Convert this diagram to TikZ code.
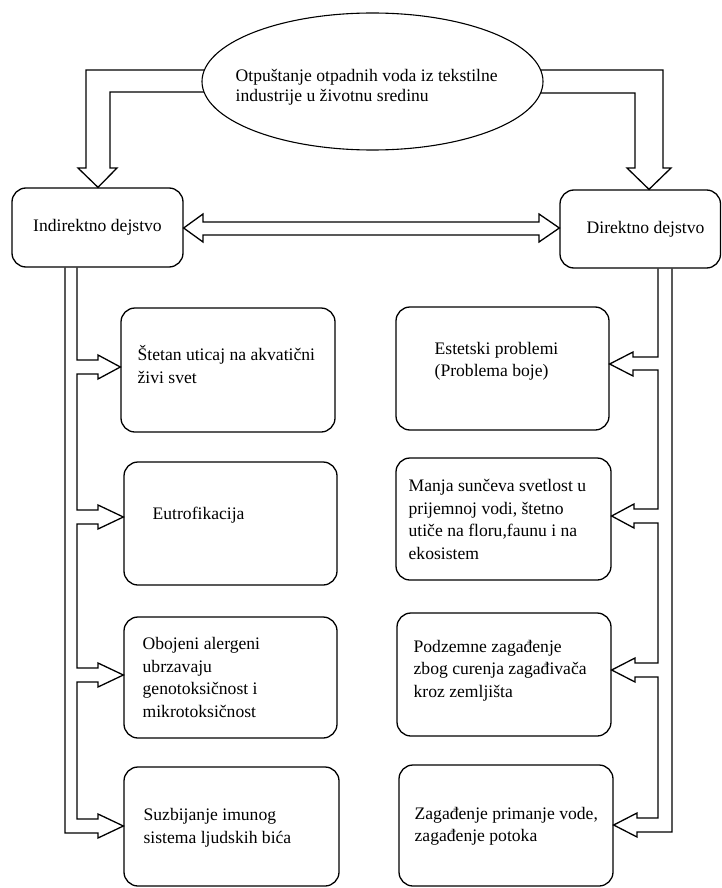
\documentclass[tikz,border=0pt]{standalone}
\usepackage{fontspec}
\IfFontExistsTF{LiberationSerif-Regular.ttf}
  {\setmainfont{LiberationSerif-Regular.ttf}[BoldFont=LiberationSerif-Bold.ttf]}
  {\setmainfont{Liberation Serif}}
\usetikzlibrary{shapes.geometric,backgrounds}
\begin{document}
\begin{tikzpicture}[x=1pt,y=-1pt,
  line width=1.3pt, line join=miter,
  card/.style={draw=black, rounded corners=14pt, inner sep=0pt},
  txt/.style={anchor=west, inner sep=0pt, align=left, font=\fontsize{17.6}{22.5}\selectfont},
  flow/.style={draw=black, line width=1.3pt, line join=miter}]
\useasboundingbox (0,0) rectangle (722,888);

% source ellipse
\node[draw=black, fill=white, ellipse, inner sep=0pt, line width=1.1pt,
      minimum width=341pt, minimum height=137pt] (src) at (372.5,81.5) {};
\node[txt, font=\fontsize{17.6}{19.5}\selectfont] (tsrc) at (235,87.5)
  {\strut Otpuštanje otpadnih voda iz tekstilne\\industrije u životnu sredinu\strut};

% the two kinds of effect
\node[card, minimum width=171pt, minimum height=79pt,
      font=\fontsize{17.6}{22.5}\selectfont] (I) at (97.5,227.5) {Indirektno dejstvo};
\node[card, minimum width=160.5pt, minimum height=78pt] (D) at (640.25,229) {};
\node[txt] (tD) at (586,229) {Direktno dejstvo};

% indirect effects
\node[card, minimum width=214pt, minimum height=124pt] (L1) at (228,370) {};
\node[card, minimum width=213pt, minimum height=123pt] (L2) at (230.5,523.5) {};
\node[card, minimum width=213pt, minimum height=121pt] (L3) at (230.5,677.5) {};
\node[card, minimum width=215pt, minimum height=119pt] (L4) at (231.5,826.5) {};
\node[txt] (tL1) at (137,367.5) {\strut Štetan uticaj na akvatični\\živi svet\strut};
\node[txt] (tL2) at (152,515) {\strut Eutrofikacija\strut};
\node[txt] (tL3) at (142,679) {\strut Obojeni alergeni\\ubrzavaju\\genotoksičnost i\\mikrotoksičnost\strut};
\node[txt] (tL4) at (143,827.5) {\strut Suzbijanje imunog\\sistema ljudskih bića\strut};

% direct effects
\node[card, minimum width=213pt, minimum height=123pt] (R1) at (502.5,368.5) {};
\node[card, minimum width=215pt, minimum height=122pt] (R2) at (503.5,519) {};
\node[card, minimum width=214pt, minimum height=123pt] (R3) at (504,674.5) {};
\node[card, minimum width=214pt, minimum height=121pt] (R4) at (506,825.5) {};
\node[txt] (tR1) at (434,361) {\strut Estetski problemi\\(Problema boje)\strut};
\node[txt] (tR2) at (408,521) {\strut Manja sunčeva svetlost u\\prijemnoj vodi, štetno\\utiče na floru,faunu i na\\ekosistem\strut};
\node[txt] (tR3) at (413,670) {\strut Podzemne zagađenje\\zbog curenja zagađivača\\kroz zemljišta\strut};
\node[txt] (tR4) at (414,826) {\strut Zagađenje primanje vode,\\zagađenje potoka\strut};

\begin{scope}[on background layer]
  \fill[white] (0,0) rectangle (722,888);
  % hollow arrows from the ellipse down to both effect boxes
  \draw[flow] (src.center |- 0,70) -- (86,70) -- (86,168) -- (78,168)
    -- (I.north -| 98,0) -- (117,168) -- (110,168) -- (110,92) -- (src.center |- 0,92);
  \draw[flow] (src.center |- 0,70) -- (663,70) -- (663,168) -- (671,168)
    -- (D.north -| 649,0) -- (627,168) -- (635,168) -- (635,93) -- (src.center |- 0,93);
  % two-headed arrow between the effect boxes
  \draw[flow] (I.east |- 0,228) -- (203,214) -- (203,222) -- (539,222) -- (539,214)
    -- (D.west |- 0,228) -- (539,242) -- (539,235) -- (203,235) -- (203,242) -- cycle;
  % left comb
  \draw[flow] (I.south -| 65,0) -- (65,833) -- (98,833) -- (98,838) -- (L4.west |- 0,826)
    -- (98,814) -- (98,819) -- (77,819) -- (77,682) -- (98,682) -- (98,687)
    -- (L3.west |- 0,675) -- (98,663) -- (98,668) -- (77,668) -- (77,524) -- (98,524)
    -- (98,529) -- (L2.west |- 0,517) -- (98,505) -- (98,510) -- (77,510) -- (77,374)
    -- (98,374) -- (98,379) -- (L1.west |- 0,367) -- (98,355) -- (98,360) -- (77,360)
    -- (I.south -| 77,0);
  % right comb
  \draw[flow] (D.south -| 672,0) -- (672,832) -- (637,832) -- (637,837) -- (R4.east |- 0,825)
    -- (637,813) -- (637,818) -- (658,818) -- (658,677) -- (635,677) -- (635,682)
    -- (R3.east |- 0,670) -- (635,658) -- (635,663) -- (658,663) -- (658,523) -- (634,523)
    -- (634,528) -- (R2.east |- 0,516) -- (634,504) -- (634,509) -- (658,509) -- (658,370)
    -- (633,370) -- (633,376) -- (R1.east |- 0,364) -- (633,352) -- (633,357) -- (658,357)
    -- (D.south -| 658,0);
\end{scope}
\end{tikzpicture}
\end{document}
